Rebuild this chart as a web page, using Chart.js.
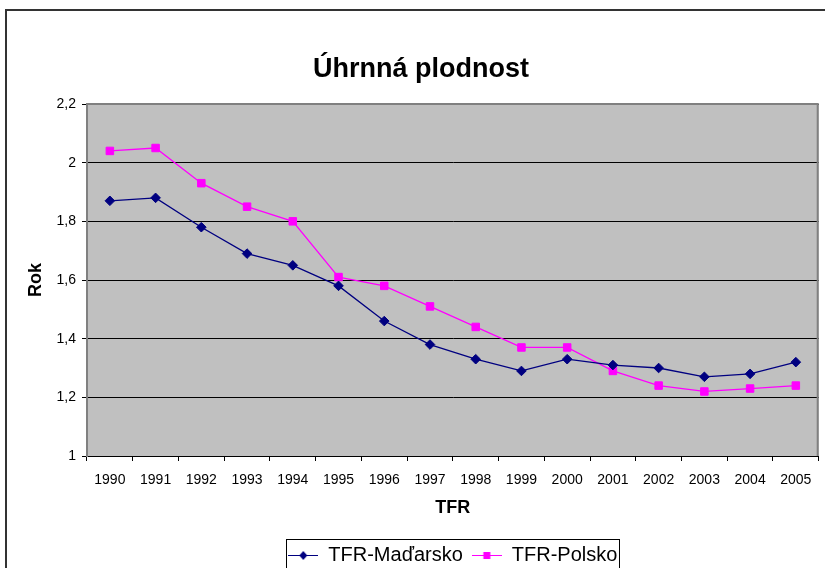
<!DOCTYPE html>
<html>
<head>
<meta charset="utf-8">
<script src="https://cdn.jsdelivr.net/npm/chart.js@4.4.0/dist/chart.umd.min.js"></script>
<style>
html, body { margin: 0; padding: 0; background: #fff; overflow: hidden; }
#frame { position: absolute; left: 5px; top: 9px; width: 900px; height: 700px; border: 2px solid #333; }
#wrap { position: absolute; left: 0; top: 0; width: 825px; height: 568px; }
</style>
</head>
<body>
<div id="frame"></div>
<div id="wrap"><canvas id="chart" width="825" height="568"></canvas></div>
<script>
var years = ['1990', '1991', '1992', '1993', '1994', '1995', '1996', '1997',
             '1998', '1999', '2000', '2001', '2002', '2003', '2004', '2005'];
var hungary = [1.87, 1.88, 1.78, 1.69, 1.65, 1.58, 1.46, 1.38,
               1.33, 1.29, 1.33, 1.31, 1.30, 1.27, 1.28, 1.32];
var poland = [2.04, 2.05, 1.93, 1.85, 1.80, 1.61, 1.58, 1.51,
              1.44, 1.37, 1.37, 1.29, 1.24, 1.22, 1.23, 1.24];

var NAVY = '#000080';
var MAGENTA = '#FF00FF';
var FONT = 'Arial, "Liberation Sans", sans-serif';

// little line + marker pictures for the legend
function legendIcon(color, shape) {
    var c = document.createElement('canvas');
    c.width = 30;
    c.height = 12;
    var g = c.getContext('2d');
    g.strokeStyle = color;
    g.lineWidth = 1;
    g.beginPath();
    g.moveTo(0, 6.5);
    g.lineTo(30, 6.5);
    g.stroke();
    g.fillStyle = color;
    g.beginPath();
    if (shape == 'diamond') {
        g.moveTo(15, 2);
        g.lineTo(19, 6.5);
        g.lineTo(15, 11);
        g.lineTo(11, 6.5);
    } else {
        g.rect(11.5, 3, 7, 7);
    }
    g.closePath();
    g.fill();
    return c;
}

var icons = [legendIcon(NAVY, 'diamond'), legendIcon(MAGENTA, 'square')];

var plotArea = {
    id: 'plotArea',
    afterLayout: function(chart) {
        // centre the legend under the plot area, like Excel does
        chart.legend.left = chart.chartArea.left;
        chart.legend.right = chart.chartArea.right;
    },
    beforeDraw: function(chart) {
        var a = chart.chartArea;
        var ctx = chart.ctx;
        ctx.save();
        ctx.fillStyle = '#C0C0C0';
        ctx.fillRect(a.left, a.top, a.right - a.left, a.bottom - a.top);
        ctx.restore();
    },
    beforeDatasetsDraw: function(chart) {
        var a = chart.chartArea;
        var ctx = chart.ctx;
        ctx.save();
        ctx.strokeStyle = '#808080';
        ctx.lineWidth = 2;
        ctx.beginPath();
        ctx.moveTo(a.left, a.top);
        ctx.lineTo(a.right - 1, a.top);
        ctx.lineTo(a.right - 1, a.bottom);
        ctx.stroke();
        ctx.restore();
    },
    afterDraw: function(chart) {
        var boxes = chart.legend.legendHitBoxes;
        if (!boxes || !boxes.length) return;
        var left = boxes[0].left, right = 0;
        for (var i = 0; i < boxes.length; i++) {
            left = Math.min(left, boxes[i].left);
            right = Math.max(right, boxes[i].left + boxes[i].width);
        }
        var mid = boxes[0].top + boxes[0].height / 2;
        var ctx = chart.ctx;
        ctx.save();
        ctx.strokeStyle = '#000';
        ctx.lineWidth = 1;
        ctx.strokeRect(Math.round(left - 2) + 0.5, Math.round(mid - 16) + 0.5,
                       Math.round(right - left + 4), 60);
        ctx.restore();
    }
};

new Chart(document.getElementById('chart'), {
    type: 'line',
    data: {
        labels: years,
        datasets: [{
            label: 'TFR-Maďarsko',
            data: hungary,
            borderColor: NAVY,
            backgroundColor: NAVY,
            borderWidth: 1.3,
            pointStyle: 'rectRot',
            pointRadius: 4.8,
            pointBorderWidth: 1,
            tension: 0,
            fill: false
        }, {
            label: 'TFR-Polsko',
            data: poland,
            borderColor: MAGENTA,
            backgroundColor: MAGENTA,
            borderWidth: 1.3,
            pointStyle: 'rect',
            pointRadius: 5.3,
            pointBorderWidth: 1,
            tension: 0,
            fill: false
        }]
    },
    options: {
        responsive: false,
        animation: false,
        layout: { padding: { left: 22, right: 5, top: 0, bottom: -7 } },
        plugins: {
            title: {
                display: true,
                text: 'Úhrnná plodnost',
                color: '#000',
                font: { family: FONT, size: 27, weight: 'bold' },
                padding: { top: 53, bottom: 18.6 }
            },
            legend: {
                position: 'bottom',
                labels: {
                    color: '#000',
                    font: { family: FONT, size: 20 },
                    usePointStyle: true,
                    pointStyleWidth: 30,
                    padding: 9,
                    generateLabels: function(chart) {
                        var items = Chart.defaults.plugins.legend.labels.generateLabels(chart);
                        items.forEach(function(item, i) {
                            item.pointStyle = icons[i];
                        });
                        return items;
                    }
                }
            },
            tooltip: { enabled: false }
        },
        scales: {
            x: {
                offset: true,
                afterFit: function(scale) { scale.height = 80; },
                grid: {
                    offset: true,
                    drawOnChartArea: false,
                    drawTicks: true,
                    tickLength: 5,
                    tickColor: '#000'
                },
                border: { color: '#000', width: 1 },
                ticks: {
                    color: '#000',
                    font: { family: FONT, size: 14 },
                    padding: 11,
                    maxRotation: 0,
                    autoSkip: false
                },
                title: {
                    display: true,
                    text: 'TFR',
                    color: '#000',
                    font: { family: FONT, size: 18, weight: 'bold' },
                    padding: { top: 0, bottom: 17.2 }
                }
            },
            y: {
                min: 1,
                max: 2.2,
                afterFit: function(scale) { scale.width = 65; },
                grid: {
                    color: '#000',
                    lineWidth: 1,
                    tickLength: 5,
                    tickColor: '#000'
                },
                border: { color: '#808080', width: 2 },
                ticks: {
                    stepSize: 0.2,
                    color: '#000',
                    font: { family: FONT, size: 14 },
                    padding: 6,
                    callback: function(value) {
                        return String(Math.round(value * 10) / 10).replace('.', ',');
                    }
                },
                title: {
                    display: true,
                    text: 'Rok',
                    color: '#000',
                    font: { family: FONT, size: 18, weight: 'bold' },
                    padding: { top: 3.2, bottom: 0 }
                }
            }
        }
    },
    plugins: [plotArea]
});
</script>
</body>
</html>
